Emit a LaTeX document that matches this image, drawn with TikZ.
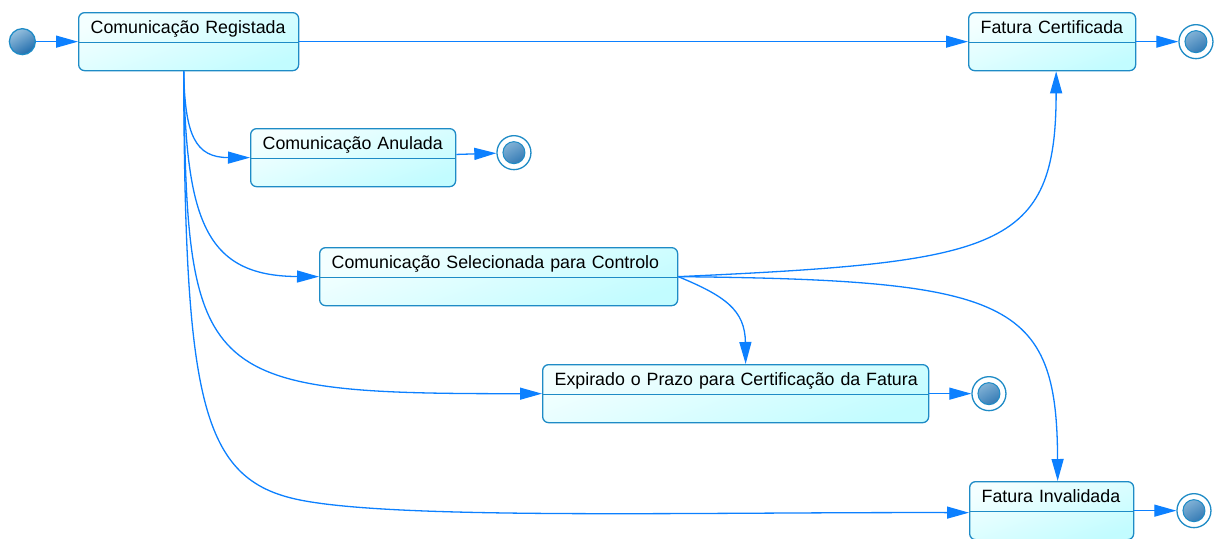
\documentclass[tikz,border=0pt]{standalone}
\usepackage{fontspec}
\setmainfont{Liberation Sans}
\usetikzlibrary{arrows.meta,positioning}

\definecolor{stateline}{RGB}{30,139,198}
\definecolor{statetop}{RGB}{244,255,255}
\definecolor{statebot}{RGB}{194,252,255}
\definecolor{flowblue}{RGB}{12,128,255}
\definecolor{dotlight}{RGB}{150,192,222}
\definecolor{dotdark}{RGB}{32,108,172}

\begin{document}
\begin{tikzpicture}[
  x=1pt, y=-1pt,
  node distance=42pt,
  state/.style={draw=stateline, line width=1.3pt, rounded corners=6pt,
    top color=statetop, bottom color=statebot, shading angle=20,
    anchor=north west, text width=#1, align=left, inner xsep=12pt, inner ysep=0pt,
    text height=21pt, text depth=37pt, font=\fontsize{17.8}{21}\selectfont,
    execute at begin node={\hbox\bgroup}, execute at end node={\egroup},
    path picture={\draw[stateline, line width=1.3pt]
      ([yshift=-30pt]path picture bounding box.north west) --
      ([yshift=-30pt]path picture bounding box.north east);}},
  initial/.style={circle, draw=stateline, line width=1.3pt, minimum size=26pt, inner sep=0pt,
    top color=dotlight, bottom color=dotdark, shading angle=30},
  final/.style={circle, draw=stateline, line width=1.3pt, fill=white, minimum size=34pt, inner sep=0pt,
    path picture={\draw[stateline, line width=1pt, top color=dotlight, bottom color=dotdark, shading angle=30]
      (path picture bounding box.center) circle (11pt);}},
  flow/.style={draw=flowblue, line width=1.3pt, -{Triangle[length=22pt,width=12pt]}}
]
\useasboundingbox (0,0) rectangle (1214,538);

% states
\node[state=196pt] (reg) at (78,12) {Comunicação Registada};
\node[state=143pt] (cert) at (968,12) {Fatura Certificada};
\node[state=181pt] (anul) at (250,128) {Comunicação Anulada};
\node[state=334pt] (sel) at (319,247) {Comunicação Selecionada para Controlo};
\node[state=362pt] (exp) at (542,364) {Expirado o Prazo para Certificação da Fatura};
\node[state=140pt] (inv) at (969,481) {Fatura Invalidada};

% initial / final
\node[initial, left=of reg] (start) {};
\node[final, right=of cert] (certend) {};
\node[final, right=40pt of anul, yshift=5pt] (anulend) {};
\node[final, right=of exp] (expend) {};
\node[final, right=of inv] (invend) {};

% straight transitions
\draw[flow] (start) -- (reg);
\draw[flow] (reg) -- (cert);
\draw[flow] (cert) -- (certend);
\draw[flow] (anul) -- (anulend);
\draw[flow] (exp) -- (expend);
\draw[flow] (inv) -- (invend);

% from registada
\draw[flow] ([xshift=-5pt]reg.south) .. controls (185,135) and (195,157.5) .. (anul.west);
\draw[flow] ([xshift=-5pt]reg.south) .. controls (186,220) and (205,276) .. (sel.west);
\draw[flow] ([xshift=-5pt]reg.south) .. controls (187,380) and (195,394) .. (exp.west);
\draw[flow] ([xshift=-5pt]reg.south) .. controls (185,400) and (200,480) .. (300,500)
  .. controls (400,520) and (700,512) .. ([yshift=-2pt]inv.west);

% from selecionada
\draw[flow] (sel.east) .. controls (1000,262) and (1056,250) .. ([xshift=4pt]cert.south);
\draw[flow] (sel.east) .. controls (1010,280) and (1057,300) .. ([xshift=6pt]inv.north);
\draw[flow] (sel.east) .. controls (725,296) and (745,310) .. ([xshift=10pt]exp.north);
\end{tikzpicture}
\end{document}
